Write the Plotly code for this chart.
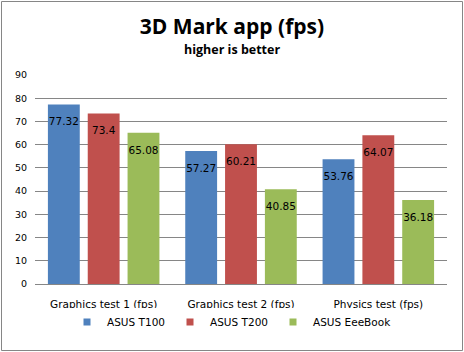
import plotly.graph_objects as go

categories = ["Graphics test 1 (fps)", "Graphics test 2 (fps)", "Physics test (fps)"]
series_names = ["ASUS T100", "ASUS T200", "ASUS EeeBook"]
t100 = [77.32, 57.27, 53.76]
t200 = [73.4, 60.21, 64.07]
eeebook = [65.08, 40.85, 36.18]
y_ticks = [0, 10, 20, 30, 40, 50, 60, 70, 80, 90]

colors = ["#4F81BD", "#C0504D", "#9BBB59"]
values = [t100, t200, eeebook]

W, H = 464, 352
ml, mr, mt, mb = 35, 17, 75, 68
pw, ph = W - ml - mr, H - mt - mb
LBL = dict(family="DejaVu Sans", size=10.5, color="#000000")

fig = go.Figure()
for i, (name, vals, col) in enumerate(zip(series_names, values, colors)):
    fig.add_trace(go.Bar(
        x=categories, y=vals, name=name, marker_color=col, marker_line_width=0,
        offsetgroup=str(i), showlegend=False, hoverinfo="skip",
    ))
for i, (name, vals, col) in enumerate(zip(series_names, values, colors)):
    # data labels, grouped like the bars, drawn just under each bar top
    fig.add_trace(go.Scatter(
        x=categories, y=vals, mode="markers+text", text=[str(v) for v in vals],
        textposition="bottom center", textfont=LBL,
        marker=dict(size=19, color="rgba(0,0,0,0)"),
        offsetgroup=str(i), showlegend=False, hoverinfo="skip", cliponaxis=False,
    ))
for i, (name, col) in enumerate(zip(series_names, colors)):
    fig.add_trace(go.Scatter(
        x=[None], y=[None], mode="markers", name=name, offsetgroup=str(i),
        marker=dict(symbol="square", size=7, color=col),
    ))

fig.update_layout(
    width=W, height=H,
    margin=dict(l=ml, r=mr, t=mt, b=mb, pad=0),
    paper_bgcolor="white", plot_bgcolor="white",
    barmode="group", bargap=0.13, bargroupgap=0.2,
    scattermode="group", scattergap=0.13,
    title=dict(
        text="<b>3D Mark app (fps)</b>",
        font=dict(family="Open Sans", size=21, color="#000000"),
        x=0.5, xref="container", xanchor="center",
        y=1 - 27 / H, yref="container", yanchor="middle", automargin=False,
    ),
    xaxis=dict(
        type="category", showgrid=False, showline=True, linecolor="#868686", linewidth=1,
        ticks="outside", ticklen=10, tickcolor="rgba(0,0,0,0)", automargin=False,
        tickfont=LBL,
    ),
    yaxis=dict(
        range=[0, 90], tickvals=y_ticks, showgrid=True, gridcolor="#868686", gridwidth=1,
        zeroline=False, showline=False, ticks="outside", ticklen=5, tickcolor="rgba(0,0,0,0)",
        tickfont=dict(family="DejaVu Sans", size=9.5, color="#000000"), automargin=False,
    ),
    legend=dict(
        orientation="h", x=(W / 2 - ml) / pw, xref="paper", xanchor="center",
        y=(mt + ph - 322) / ph, yref="paper", yanchor="middle",
        font=LBL, itemwidth=30, tracegroupgap=0,
    ),
    annotations=[dict(
        text="<b>higher is better</b>", showarrow=False,
        xref="paper", x=(W / 2 - ml) / pw, xanchor="center",
        yref="paper", y=(mt + ph - 49) / ph, yanchor="middle",
        font=dict(family="Open Sans", size=12.5, color="#000000"),
    )],
)

fig.add_shape(
    type="rect", xref="paper", yref="paper",
    x0=(1.5 - ml) / pw, x1=(W - 1.5 - ml) / pw,
    y0=(mt + ph - (H - 1.5)) / ph, y1=(mt + ph - 1.5) / ph,
    line=dict(color="#868686", width=1), fillcolor="rgba(0,0,0,0)", layer="above",
)

fig.write_html("out.html")
